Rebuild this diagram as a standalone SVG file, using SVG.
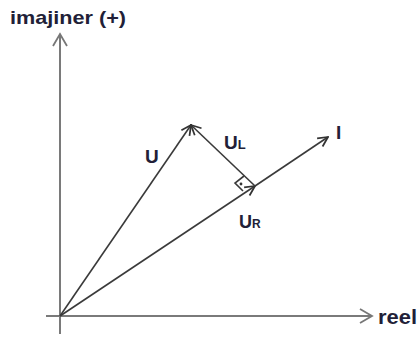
<svg xmlns="http://www.w3.org/2000/svg" width="418" height="342" viewBox="0 0 418 342">
  <defs>
    <marker id="open" markerUnits="userSpaceOnUse" markerWidth="12" markerHeight="12" refX="9" refY="4.5" orient="auto" viewBox="-1 -1 11 11">
      <path d="M0,0 L9,4.5 L0,9" fill="none" stroke="#333" stroke-width="1.6"/>
    </marker>
    <marker id="axis" markerUnits="userSpaceOnUse" markerWidth="16" markerHeight="16" refX="12" refY="7" orient="auto" viewBox="-1 -1 16 16">
      <path d="M0,0 L12,7 L0,14" fill="none" stroke="#777" stroke-width="1.8"/>
    </marker>
  </defs>
  <style>
    .t { font-family: "Liberation Sans", Arial, sans-serif; font-weight: bold; fill: #221f38; }
    .ax { stroke: #7a7a7a; stroke-width: 2; fill: none; }
    .v { stroke: #3a3a3a; stroke-width: 1.6; fill: none; }
  </style>
  <rect width="418" height="342" fill="#ffffff"/>
  <g id="axes">
    <line class="ax" x1="60" y1="334" x2="60" y2="34" marker-end="url(#axis)"/>
    <line class="ax" x1="46" y1="316" x2="372" y2="316" marker-end="url(#axis)"/>
  </g>
  <g id="connectors">
    <line id="vec-U" class="v" x1="60" y1="316" x2="191" y2="125" marker-end="url(#open)"/>
    <line id="vec-UR" class="v" x1="60" y1="316" x2="255" y2="186" marker-end="url(#open)"/>
    <line id="vec-I" class="v" x1="255" y1="186" x2="328" y2="137" marker-end="url(#open)"/>
    <line id="vec-UL" class="v" x1="255" y1="186" x2="191" y2="125" marker-end="url(#open)"/>
    <path id="right-angle" class="v" stroke-width="1.2" d="M244,176 L235,183 L243,191"/>
    <circle cx="241" cy="184" r="1.4" fill="#333"/>
  </g>
  <g id="label-imajiner"><text class="t" x="10" y="24" font-size="19" textLength="116" lengthAdjust="spacingAndGlyphs">imajiner (+)</text></g>
  <g id="label-reel"><text class="t" x="378" y="324" font-size="20" textLength="39" lengthAdjust="spacingAndGlyphs">reel</text></g>
  <g id="label-U"><text class="t" x="145" y="163" font-size="19">U</text></g>
  <g id="label-UL"><text class="t" x="224" y="149" font-size="19">U<tspan font-size="13">L</tspan></text></g>
  <g id="label-UR"><text class="t" x="239" y="228" font-size="18">U<tspan font-size="12">R</tspan></text></g>
  <g id="label-I"><text class="t" x="336" y="139" font-size="19">I</text></g>
</svg>
